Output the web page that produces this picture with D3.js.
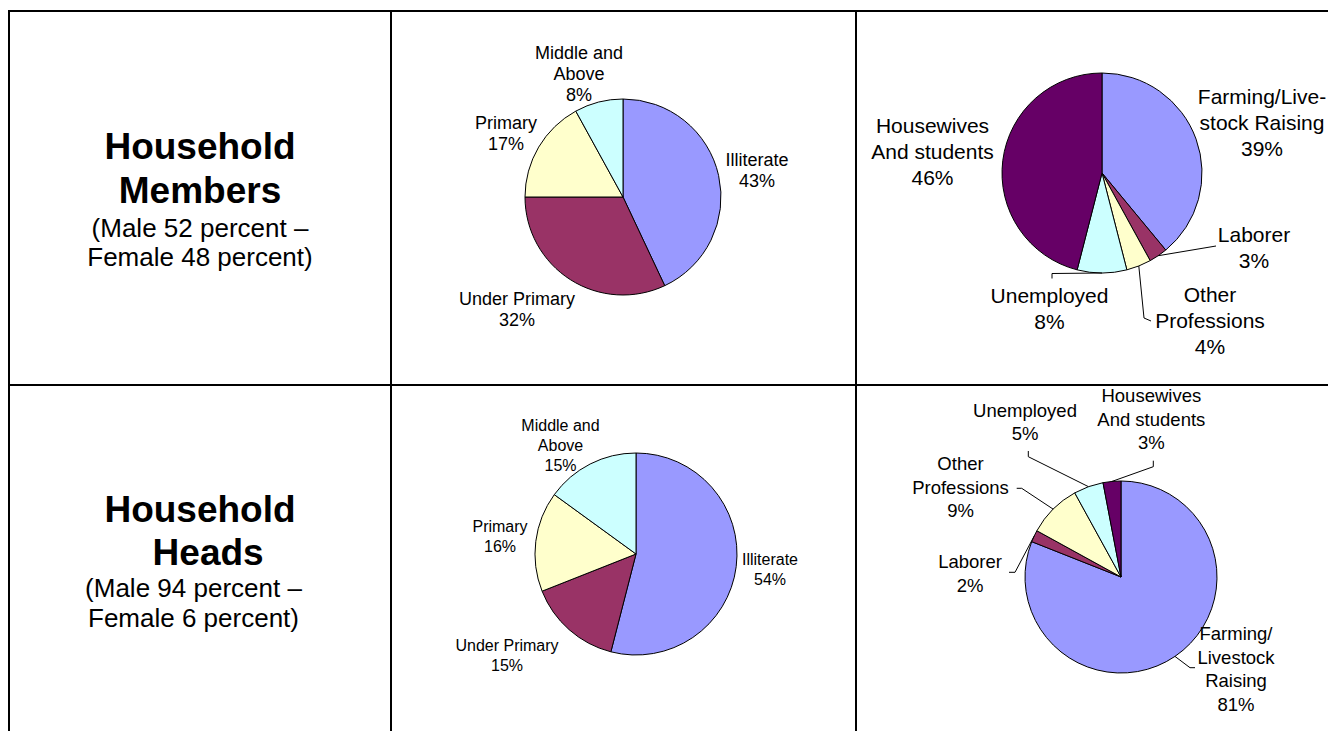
<!DOCTYPE html>
<html>
<head>
<meta charset="utf-8">
<script src="https://cdn.jsdelivr.net/npm/d3@7"></script>
<style>
  html, body { margin: 0; padding: 0; background: #fff; overflow: hidden; }
  svg { display: block; font-family: "Liberation Sans", Arial, sans-serif; }
</style>
</head>
<body>
<div id="chart"></div>
<script>
// row headings (left column of the table)
var rowTitles = [["Household", "Members"], ["Household", " Heads"]];
var rowNotes = [["(Male 52 percent –", "Female 48 percent)"], ["(Male 94 percent –", "Female 6 percent)"]];

// education level pies
var eduCategories = [["Illiterate"], ["Under Primary"], ["Primary"], ["Middle and", "Above"]];
var eduMembers = [43, 32, 17, 8];
var eduHeads = [54, 15, 16, 15];
var eduColors = ["#9999ff", "#993366", "#ffffcc", "#ccffff"];

// occupation pies
var jobCategoriesMembers = [["Farming/Live-", "stock Raising"], ["Laborer"], ["Other", "Professions"], ["Unemployed"], ["Housewives", "And students"]];
var jobCategoriesHeads = [["Farming/", "Livestock", "Raising"], ["Laborer"], ["Other", "Professions"], ["Unemployed"], ["Housewives", "And students"]];
var jobMembers = [39, 3, 4, 8, 46];
var jobHeads = [81, 2, 9, 5, 3];
var jobColors = ["#9999ff", "#993366", "#ffffcc", "#ccffff", "#660066"];

var W = 1328, H = 731;

var svg = d3.select("#chart").append("svg")
    .attr("width", W)
    .attr("height", H);

// table grid
var grid = svg.append("g").attr("stroke", "#000").attr("stroke-width", 2);
grid.append("line").attr("x1", 8).attr("x2", W).attr("y1", 11).attr("y2", 11);
grid.append("line").attr("x1", 8).attr("x2", W).attr("y1", 385).attr("y2", 385);
[9, 391, 856].forEach(function(x) {
    grid.append("line").attr("x1", x).attr("x2", x).attr("y1", 10).attr("y2", H);
});

// row headings
var headLayout = [
    {titleX: [200, 200], titleY: [159, 202.5], noteX: [200, 200], noteY: [237, 265.5]},
    {titleX: [200, 203], titleY: [521.5, 565], noteX: [193.5, 193.5], noteY: [597, 627]}
];
rowTitles.forEach(function(lines, i) {
    var L = headLayout[i];
    lines.forEach(function(t, j) {
        svg.append("text")
            .attr("x", L.titleX[j]).attr("y", L.titleY[j])
            .attr("text-anchor", "middle")
            .attr("font-size", 37).attr("font-weight", "bold")
            .style("white-space", "pre")
            .text(t);
    });
    rowNotes[i].forEach(function(t, j) {
        svg.append("text")
            .attr("x", L.noteX[j]).attr("y", L.noteY[j])
            .attr("text-anchor", "middle")
            .attr("font-size", 26)
            .text(t);
    });
});

// pie layouts: centre, radius, label font, label offsets (centre x, first baseline), leader bends
var pies = [
    {values: eduMembers, names: eduCategories, colors: eduColors,
     cx: 623, cy: 197, r: 98, font: 18, lh: 21,
     labels: [[134, -31], [-106, 108], [-117, -68], [-44, -138]],
     leaders: [null, null, null, null]},
    {values: jobMembers, names: jobCategoriesMembers, colors: jobColors,
     cx: 1102, cy: 173, r: 100, font: 21, lh: 26,
     labels: [[160, -69], [152, 68.7], [108, 128.7], [-52.5, 130.3], [-169.5, -40.3]],
     leaders: [null, [[114, 73]], [[42, 145], [49, 148]], [[-50, 100.5], [-50, 105.5]], null]},
    {values: eduHeads, names: eduCategories, colors: eduColors,
     cx: 636, cy: 554, r: 101, font: 16, lh: 20,
     labels: [[134, 11], [-129, 97], [-136, -22], [-75.5, -123]],
     leaders: [null, null, null, null]},
    {values: jobHeads, names: jobCategoriesHeads, colors: jobColors,
     cx: 1121, cy: 577, r: 96, font: 18.5, lh: 23.5,
     labels: [[115, 63], [-151, -8.7], [-160.5, -107], [-96, -160.3], [30.3, -174.7]],
     leaders: [[[69, 90.7], [74, 90.7]], [[-106, -4.7], [-112, -4.7]], [[-99.3, -88.7], [-104.3, -88.7]],
               [[-92.7, -120.3], [-92.7, -126]], [[32.3, -110.3], [32.3, -116.3]]]}
];

var pie = d3.pie().sort(null).value(function(d) { return d; });

pies.forEach(function(p) {
    var g = svg.append("g").attr("transform", "translate(" + p.cx + "," + p.cy + ")");
    var arcs = pie(p.values);
    var arc = d3.arc().innerRadius(0).outerRadius(p.r);
    var edge = d3.arc().innerRadius(p.r).outerRadius(p.r);

    g.selectAll("path.slice")
        .data(arcs)
        .enter().append("path")
        .attr("class", "slice")
        .attr("d", arc)
        .attr("fill", function(d, i) { return p.colors[i]; })
        .attr("stroke", "#000")
        .attr("stroke-width", 1);

    // leader lines from slice edge to label
    var line = d3.line();
    arcs.forEach(function(d, i) {
        if (!p.leaders[i]) return;
        var pts = [edge.centroid(d)].concat(p.leaders[i]);
        g.append("path")
            .attr("d", line(pts))
            .attr("fill", "none")
            .attr("stroke", "#000")
            .attr("stroke-width", 1);
    });

    // labels: category lines plus percentage
    arcs.forEach(function(d, i) {
        var lines = p.names[i].concat([d.data + "%"]);
        var t = g.append("text")
            .attr("text-anchor", "middle")
            .attr("font-size", p.font)
            .attr("fill", "#000");
        lines.forEach(function(s, j) {
            t.append("tspan")
                .attr("x", p.labels[i][0])
                .attr("y", p.labels[i][1] + j * p.lh)
                .text(s);
        });
    });
});
</script>
</body>
</html>
